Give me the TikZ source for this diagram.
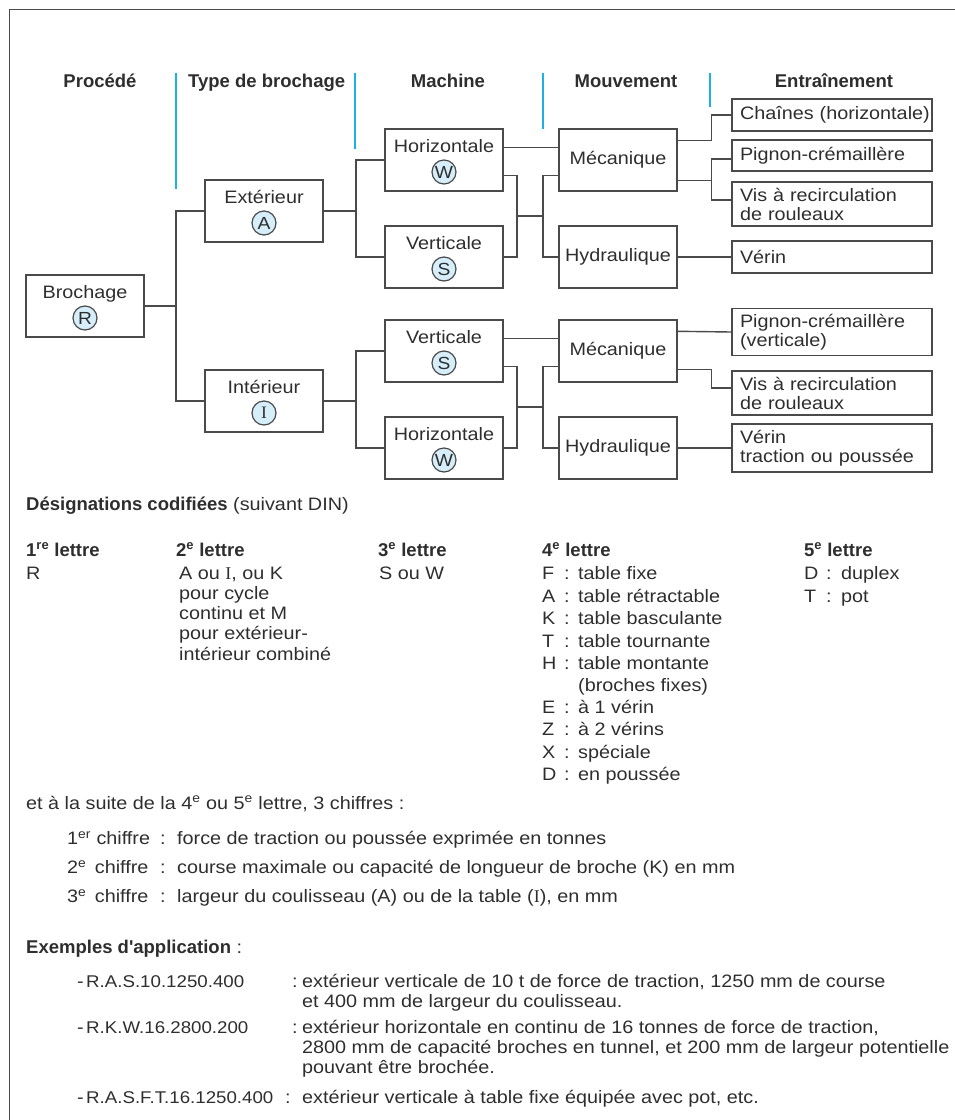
\documentclass[tikz,border=0pt]{standalone}
\usepackage{fontspec}
\setmainfont{Liberation Sans}[FakeStretch=1.1]
\newfontfamily\headfont{Liberation Sans}
\newfontfamily\serifletter{Liberation Serif}
\usepackage{tikz}
\usepackage{xcolor}
\definecolor{ChartCyan}{HTML}{1BB1E7}
\definecolor{CircleBlue}{HTML}{D5EEFA}
\definecolor{LineGrey}{HTML}{4A4A4A}
\definecolor{TextGrey}{HTML}{2E2E2E}
\newcommand\bfhead[1]{{\headfont\bfseries\fontsize{18.5}{20}\selectfont #1}}
\newcommand\codetext[1]{{\fontsize{17}{20}\selectfont #1}}

\begin{document}
\begin{tikzpicture}[x=1pt, y=-1pt,
    every node/.style={text=TextGrey, font=\fontsize{18}{20.3}\selectfont},
    choicebox/.style={draw=LineGrey, line width=1.4pt, minimum width=118pt, minimum height=62pt, inner sep=0pt},
    drivebox/.style={draw=LineGrey, line width=1.4pt, text width=184pt, inner xsep=8pt, inner ysep=0pt, align=left, font=\fontsize{18}{19}\selectfont},
    boxword/.style={anchor=base, inner sep=0pt},
    letter/.style={circle, draw=LineGrey, line width=1.2pt, fill=CircleBlue, minimum size=24pt, inner sep=0pt, font=\fontsize{17.5}{17.5}\selectfont},
    head/.style={anchor=base, inner sep=0pt, font=\headfont\bfseries\fontsize{18.5}{20}\selectfont},
    txt/.style={anchor=base west, inner sep=0pt},
    link/.style={draw=LineGrey, line width=1.4pt},
    colrule/.style={draw=ChartCyan, line width=2.5pt}]
    \useasboundingbox (0,0) rectangle (955,1120);
    \draw[LineGrey, line width=1pt] (9,1120) -- (9,9) -- (955,9);

    \node[head] (hproc) at (100,87) {Procédé};
    \node[head, anchor=base west] (htype) at (188,87) {Type de brochage};
    \node[head] (hmach) at (448,87) {Machine};
    \node[head] (hmouv) at (626,87) {Mouvement};
    \node[head] (hentr) at (834,87) {Entraînement};
    \foreach \x/\y in {176/189, 355/149, 543/129, 710/107}
        \draw[colrule] (\x,73) -- (\x,\y);

    \node[choicebox] (brochage) at (85,306) {};
    \node[boxword] (brochagew) at ([yshift=8pt]brochage.center) {Brochage};
    \node[letter] (brochagec) at ([yshift=-12pt]brochage.center) {R};
    \node[choicebox] (exterieur) at (264,211) {};
    \node[boxword] (exterieurw) at ([yshift=8pt]exterieur.center) {Extérieur};
    \node[letter] (exterieurc) at ([yshift=-12pt]exterieur.center) {A};
    \node[choicebox] (interieur) at (264,401) {};
    \node[boxword] (interieurw) at ([yshift=8pt]interieur.center) {Intérieur};
    \node[letter] (interieurc) at ([yshift=-12pt]interieur.center) {\serifletter I};

    \node[choicebox] (hortop) at (444,160) {};
    \node[boxword] (hortopw) at ([yshift=8pt]hortop.center) {Horizontale};
    \node[letter] (hortopc) at ([yshift=-12pt]hortop.center) {W};
    \node[choicebox] (vertop) at (444,257) {};
    \node[boxword] (vertopw) at ([yshift=8pt]vertop.center) {Verticale};
    \node[letter] (vertopc) at ([yshift=-12pt]vertop.center) {S};
    \node[choicebox] (verbot) at (444,351) {};
    \node[boxword] (verbotw) at ([yshift=8pt]verbot.center) {Verticale};
    \node[letter] (verbotc) at ([yshift=-12pt]verbot.center) {S};
    \node[choicebox] (horbot) at (444,448) {};
    \node[boxword] (horbotw) at ([yshift=8pt]horbot.center) {Horizontale};
    \node[letter] (horbotc) at ([yshift=-12pt]horbot.center) {W};

    \node[choicebox] (mecatop) at (618,160) {Mécanique};
    \node[choicebox] (hydrtop) at (618,257) {Hydraulique};
    \node[choicebox] (mecabot) at (618,351) {Mécanique};
    \node[choicebox] (hydrbot) at (618,448) {Hydraulique};

    \node[drivebox, minimum height=32pt] (chaines) at (832,115) {\mbox{Chaînes (horizontale)}};
    \node[drivebox, minimum height=31pt] (pignon) at (832,155.5) {Pignon-crémaillère};
    \node[drivebox, minimum height=44pt] (vis) at (832,204) {Vis à recirculation\\de rouleaux};
    \node[drivebox, minimum height=32pt] (verin) at (832,257) {Vérin};
    \node[drivebox, minimum height=47pt] (pignonv) at (832,332) {Pignon-crémaillère\\(verticale)};
    \node[drivebox, minimum height=44pt] (visbot) at (832,393) {Vis à recirculation\\de rouleaux};
    \node[drivebox, minimum height=48pt] (verintr) at (832,448) {Vérin\\traction ou poussée};

    \coordinate (procfork) at (176,306);
    \draw[link] (brochage.east) -- (procfork) |- (exterieur.west);
    \draw[link] (procfork) |- (interieur.west);
    \coordinate (extfork) at (356,211);
    \draw[link] (exterieur.east) -- (extfork) |- (hortop.west);
    \draw[link] (extfork) |- (vertop.west);
    \coordinate (intfork) at (356,401);
    \draw[link] (interieur.east) -- (intfork) |- (verbot.west);
    \draw[link] (intfork) |- (horbot.west);

    \draw[link] ([yshift=-19pt]hortop.north east) -- ([yshift=-19pt]mecatop.north west);
    \coordinate (topmerge) at (517,216);
    \coordinate (topsplit) at (543,216);
    \draw[link] ([yshift=16pt]hortop.south east) -| (topmerge) |- (vertop.east);
    \draw[link] (topmerge) -- (topsplit);
    \draw[link] ([yshift=16pt]mecatop.south west) -| (topsplit) |- (hydrtop.west);
    \draw[link] ([yshift=-19pt]verbot.north east) -- ([yshift=-19pt]mecabot.north west);
    \coordinate (botmerge) at (517,407);
    \coordinate (botsplit) at (543,407);
    \draw[link] ([yshift=16pt]verbot.south east) -| (botmerge) |- (horbot.east);
    \draw[link] (botmerge) -- (botsplit);
    \draw[link] ([yshift=16pt]mecabot.south west) -| (botsplit) |- (hydrbot.west);

    \draw[link] ([yshift=-12pt]mecatop.north east) -- ++(34,0) |- (chaines.west);
    \draw[link] ([yshift=11pt]mecatop.south east) -- ++(34,0) coordinate (mecatopfork) |- ([yshift=-3.5pt]pignon.west);
    \draw[link] (mecatopfork) |- ([yshift=4pt]vis.west);
    \draw[link] (hydrtop.east) -- (verin.west);
    \draw[link] ([yshift=-12pt]mecabot.north east) -- (pignonv.west);
    \draw[link] ([yshift=13pt]mecabot.south east) -- ++(34,0) |- ([yshift=5pt]visbot.west);
    \draw[link] (hydrbot.east) -- (verintr.west);

    \node[txt] (desig) at (26,510) {\bfhead{Désignations codifiées} (suivant DIN)};
    \node[txt] (l1) at (26,556) {\bfhead{1\textsuperscript{re} lettre}};
    \node[txt] (l2) at (176,556) {\bfhead{2\textsuperscript{e} lettre}};
    \node[txt] (l3) at (378,556) {\bfhead{3\textsuperscript{e} lettre}};
    \node[txt] (l4) at (542,556) {\bfhead{4\textsuperscript{e} lettre}};
    \node[txt] (l5) at (804,556) {\bfhead{5\textsuperscript{e} lettre}};
    \node[txt] (l1r) at (26,579) {R};
    \foreach \entry [count=\i] in {{A ou {\serifletter I}, ou K}, pour cycle, continu et M, pour extérieur-, intérieur combiné}
        \node[txt] (l2r\i) at (179,{558.7+20.3*\i}) {\entry};
    \node[txt] (l3r) at (379,579) {S ou W};
    \foreach \k/\d [count=\i] in {F/table fixe, A/table rétractable, K/table basculante, T/table tournante, H/table montante}
    {
        \node[txt] (l4k\i) at (542,{557+22.5*\i}) {\k};
        \node[txt] (l4c\i) at (564,{557+22.5*\i}) {:};
        \node[txt] (l4d\i) at (578,{557+22.5*\i}) {\d};
    }
    \node[txt] (l4h) at (578,691) {(broches fixes)};
    \foreach \k/\d [count=\i] in {E/à 1 vérin, Z/à 2 vérins, X/spéciale, D/en poussée}
    {
        \node[txt] (l4k\i b) at (542,{690.5+22.5*\i}) {\k};
        \node[txt] (l4c\i b) at (564,{690.5+22.5*\i}) {:};
        \node[txt] (l4d\i b) at (578,{690.5+22.5*\i}) {\d};
    }
    \node[txt] (l5k1) at (804,579.5) {D};
    \node[txt] (l5c1) at (826,579.5) {:};
    \node[txt] (l5d1) at (841,579.5) {duplex};
    \node[txt] (l5k2) at (804,602) {T};
    \node[txt] (l5c2) at (826,602) {:};
    \node[txt] (l5d2) at (841,602) {pot};

    \node[txt] (suite) at (26,809) {et à la suite de la 4\textsuperscript{e} ou 5\textsuperscript{e} lettre, 3 chiffres :};
    \node[txt] (ch1) at (67,844.5) {1\textsuperscript{er} chiffre};
    \node[txt] (ch1c) at (160,844.5) {:};
    \node[txt] (ch1d) at (177,844.5) {force de traction ou poussée exprimée en tonnes};
    \node[txt] (ch2) at (67,873.5) {2\textsuperscript{e}\, chiffre};
    \node[txt] (ch2c) at (160,873.5) {:};
    \node[txt] (ch2d) at (177,873.5) {course maximale ou capacité de longueur de broche (K) en mm};
    \node[txt] (ch3) at (67,902.5) {3\textsuperscript{e}\, chiffre};
    \node[txt] (ch3c) at (160,902.5) {:};
    \node[txt] (ch3d) at (177,902.5) {largeur du coulisseau (A) ou de la table ({\serifletter I}), en mm};

    \node[txt] (exemples) at (26,953) {\bfhead{Exemples d'application} :};
    \node[txt] (ex1) at (77,987) {-};
    \node[txt] (ex1code) at (86,987) {\codetext{R.A.S.10.1250.400}};
    \node[txt] (ex1c) at (292,987) {:};
    \node[txt] (ex1a) at (302,987) {extérieur verticale de 10 t de force de traction, 1250 mm de course};
    \node[txt] (ex1b) at (302,1007) {et 400 mm de largeur du coulisseau.};
    \node[txt] (ex2) at (77,1033) {-};
    \node[txt] (ex2code) at (86,1033) {\codetext{R.K.W.16.2800.200}};
    \node[txt] (ex2c) at (292,1033) {:};
    \node[txt] (ex2a) at (302,1033) {extérieur horizontale en continu de 16 tonnes de force de traction,};
    \node[txt] (ex2b) at (302,1053) {2800 mm de capacité broches en tunnel, et 200 mm de largeur potentielle};
    \node[txt] (ex2d) at (302,1073) {pouvant être brochée.};
    \node[txt] (ex3) at (77,1103) {-};
    \node[txt] (ex3code) at (86,1103) {\codetext{R.A.S.F.T.16.1250.400}};
    \node[txt] (ex3c) at (285,1103) {:};
    \node[txt] (ex3a) at (302,1103) {extérieur verticale à table fixe équipée avec pot, etc.};
\end{tikzpicture}
\end{document}
